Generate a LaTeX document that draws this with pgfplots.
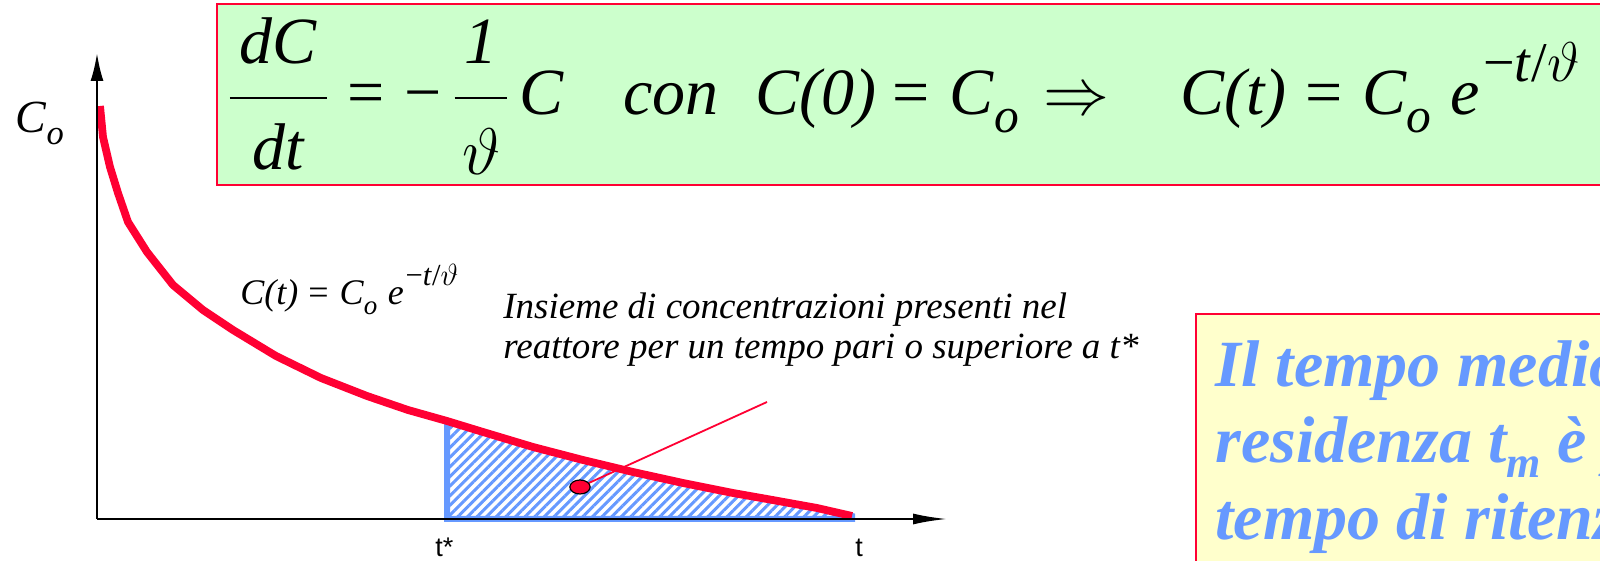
\RequirePackage{fix-cm}
\documentclass[border=0pt]{standalone}
\usepackage{amsmath}
\usepackage{graphicx}
\usepackage{fontspec}
\setmainfont{Liberation Serif}
\setsansfont{Liberation Sans}
\usepackage{pgfplots}
\pgfplotsset{compat=1.18}
\usetikzlibrary{arrows.meta,patterns.meta}

\definecolor{curvered}{RGB}{255,0,51}
\definecolor{hatchblue}{RGB}{102,153,255}
\definecolor{boxgreen}{RGB}{204,255,204}
\definecolor{boxyellow}{RGB}{255,255,204}
\definecolor{textblue}{RGB}{102,153,255}

\newcommand{\ti}[1]{\textit{#1}}
\newcommand{\sub}[2][0.75]{\raisebox{-0.26em}{\scalebox{#1}{#2}}}
\newcommand{\sups}[2][0.5em]{\raisebox{#1}{\scalebox{0.85}{#2}}}
\newcommand{\vth}{$\vartheta$}
% C(t) = C_o e^{-t/theta}, built from text glyphs
\newcommand{\solution}[1][0.5em]{%
  \ti{C(t)}\hspace{0.28em}=\hspace{0.3em}\ti{C}\sub{\ti{o}}\hspace{0.29em}%
  \ti{e}\hspace{0.05em}\sups[#1]{−\ti{t}/\vth}}

% decay curve C(t), drawn as a polyline (x, C)
\pgfplotstableread{
x   c
100 455
103 424
110 394
118 368
128 339
147 309
173 276
203 251
233 231
276 205
321 183
367 165
408 151
447 140
483 129
533 114
583 101
633 89
683 78
733 68
767 62
817 53
852 45
}\curve

% region under the curve from t* to t
\pgfplotstableread{
x   c
447 42
447 140
483 129
533 114
583 101
633 89
683 78
733 68
767 62
817 53
852 45
852 42
}\tail

\begin{document}
\begin{tikzpicture}
\useasboundingbox (-48.5pt,-21pt) rectangle (751.5pt,259.5pt);
\clip (-48.5pt,-21pt) rectangle (751.5pt,259.5pt);
\begin{axis}[
  at={(0,0)}, anchor=south west,
  scale only axis, width=425pt, height=233pt,
  xmin=97, xmax=947, ymin=42, ymax=508,
  axis lines=left,
  xtick=\empty, ytick=\empty,
  x axis line style={line width=1.15pt, -{Latex[length=17pt,width=5.5pt]}},
  y axis line style={line width=1.15pt, -{Latex[length=14pt,width=6.5pt]}},
  axis on top, clip=false,
]
% equation box
\draw[fill=boxgreen, draw=curvered, line width=1pt]
  (axis cs:217,376) rectangle (axis cs:1640,557);
\node[anchor=base west, inner sep=0, font=\fontsize{33}{40}\selectfont]
  at (axis cs:227,446)
  {$\displaystyle\frac{\hspace{0.15em}\raisebox{0.1em}{\ti{dC}}\hspace{0.15em}}{\rule{0pt}{0.97em}\ti{dt}}$%
   \hspace{0.27em}=\hspace{0.3em}−\hspace{0.16em}%
   $\displaystyle\frac{\hspace{0.15em}\raisebox{0.1em}{\ti{1}}\hspace{0.15em}}{\rule{0pt}{1.05em}\vartheta}$%
   \hspace{0.15em}\ti{C}};
\node[anchor=base west, inner sep=0, font=\fontsize{33}{40}\selectfont]
  at (axis cs:623,446)
  {\ti{con}\hspace{0.56em}\ti{C(0)}\hspace{0.24em}=\hspace{0.3em}\ti{C}\sub{\ti{o}}\hspace{0.38em}$\Rightarrow$};
\node[anchor=base west, inner sep=0, font=\fontsize{33}{40}\selectfont]
  at (axis cs:1180,446) {\solution};

% statement box
\draw[fill=boxyellow, draw=curvered, line width=0.8pt]
  (axis cs:1196,-40) rectangle (axis cs:1640,247);
\begin{scope}[every node/.style={anchor=base west, inner sep=0,
    text=textblue, font=\fontsize{33}{38}\selectfont\bfseries\itshape}]
  \node at (axis cs:1215,174) {Il tempo medio di};
  \node at (axis cs:1215,98) {residenza t\raisebox{-0.22em}{\fontsize{22}{22}\selectfont m} è pari al};
  \node at (axis cs:1215,21) {tempo di ritenzione idraulica};
\end{scope}

% area of concentrations still present after t*
\addplot[draw=hatchblue, line width=3pt,
  pattern={Lines[angle=45,distance=3.4pt,line width=1.5pt]},
  pattern color=hatchblue] table[x=x, y=c] {\tail} -- cycle;

% C(t)
\addplot[curvered, line width=3.9pt, line join=round] table[x=x, y=c] {\curve};

% pointer to the area
\addplot[curvered, line width=0.9pt] coordinates {(580,74) (767,159)};
\addplot[only marks, mark=*, mark size=3.5pt,
  mark options={fill=curvered, draw=black, line width=0.6pt, xscale=1.45}]
  coordinates {(580,74)};

% labels
\node[anchor=base west, inner sep=0, font=\fontsize{23}{23}\selectfont]
  at (axis cs:15,428) {\ti{C}\sub{\ti{o}}};
\node[anchor=base west, inner sep=0, font=\fontsize{18}{18}\selectfont]
  at (axis cs:240,256) {\solution[0.55em]};
\node[anchor=base west, inner sep=0, font=\fontsize{18.5}{20}\selectfont\itshape]
  at (axis cs:503,242) {Insieme di concentrazioni presenti nel};
\node[anchor=base west, inner sep=0, font=\fontsize{18.5}{20}\selectfont\itshape]
  at (axis cs:503,202) {reattore per un tempo pari o superiore a t*};
\node[anchor=base west, inner sep=0, font=\sffamily\fontsize{13.5}{13.5}\selectfont]
  at (axis cs:435,4) {t*};
\node[anchor=base west, inner sep=0, font=\sffamily\fontsize{13.5}{13.5}\selectfont]
  at (axis cs:855,4) {t};
\end{axis}
\end{tikzpicture}
\end{document}
